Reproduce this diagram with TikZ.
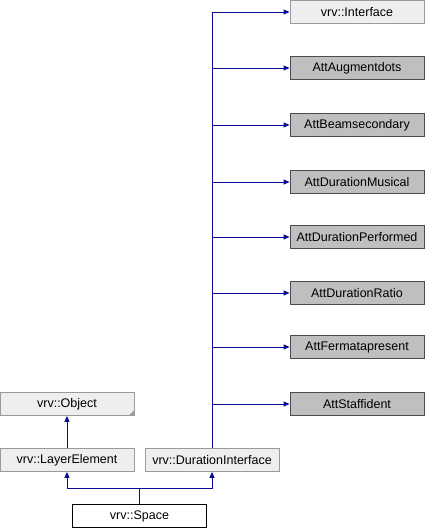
\documentclass[tikz,border=0pt]{standalone}
\usepackage{fontspec}
\setmainfont{Liberation Sans}
\usetikzlibrary{arrows.meta}
\definecolor{edge}{HTML}{0A0A96}
\definecolor{lightfill}{HTML}{EEEEEE}
\definecolor{lightborder}{HTML}{9A9A9A}
\definecolor{attfill}{HTML}{BFBFBF}
\begin{document}
\begin{tikzpicture}[x=1pt,y=-1pt,
  box/.style={draw, line width=0.8pt, minimum width=134pt, minimum height=23pt, inner sep=0pt, font=\fontsize{12.5}{14}\selectfont, anchor=center},
  vbox/.style={box, fill=lightfill, draw=lightborder},
  abox/.style={box, fill=attfill, draw=black!70},
  wbox/.style={box, fill=white, draw=black},
  conn/.style={draw=edge, line width=1pt},
  arr/.style={conn, -{Triangle[length=6pt,width=5pt]}}
]
\useasboundingbox (0,0) rectangle (425,528);

\node[vbox] (iface) at (357,12) {vrv::Interface};
\node[abox] (aug) at (357,68) {AttAugmentdots};
\node[abox] (beam) at (357,125) {AttBeamsecondary};
\node[abox] (mus) at (357,182) {AttDurationMusical};
\node[abox] (perf) at (357,237) {AttDurationPerformed};
\node[abox] (ratio) at (357,293) {AttDurationRatio};
\node[abox] (ferm) at (357,347) {AttFermatapresent};
\node[abox] (staff) at (357,404) {AttStaffident};

\node[vbox] (obj) at (67,404) {vrv::Object};
\fill[lightborder] (obj.south east) -- ++(0,-6) -- ++(-6,6) -- cycle;
\node[vbox] (layer) at (67,460) {vrv::LayerElement};
\node[vbox] (dur) at (212,460) {vrv::DurationInterface};
\node[wbox] (space) at (139.5,516) {vrv::Space};

\coordinate (top) at (212,12);
\draw[conn] (dur.north) -- (top);
\foreach \n in {iface,aug,beam,mus,perf,ratio,ferm,staff}{
  \draw[arr] (212,0 |- \n.west) -- (\n.west);
}
\draw[arr] (layer.north) -- (obj.south);
\coordinate (j) at (139.5,488);
\draw[conn] (space.north) -- (j);
\draw[arr] (j) -| (layer.south);
\draw[arr] (j) -| (dur.south);
\end{tikzpicture}
\end{document}
